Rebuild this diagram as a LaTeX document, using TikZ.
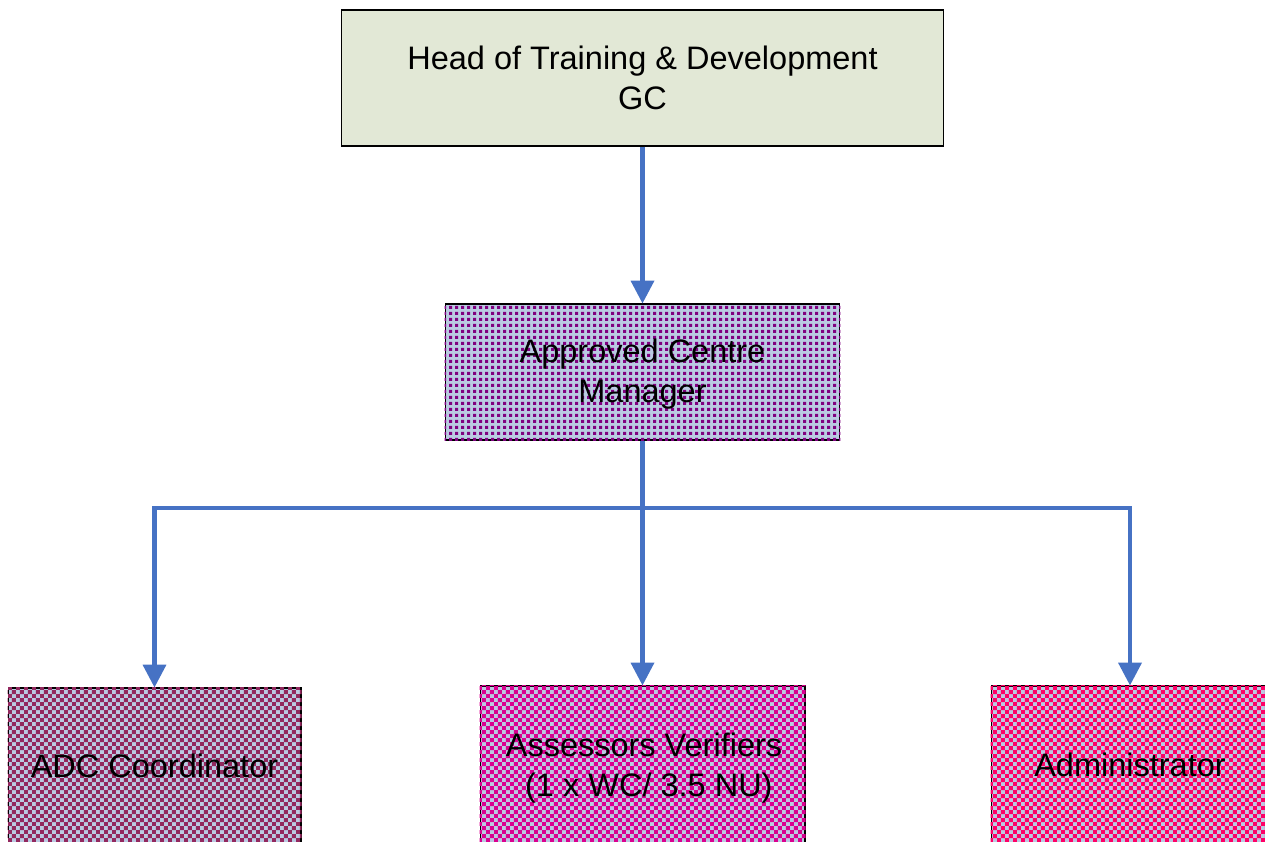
\documentclass[tikz,border=0pt]{standalone}
\usepackage{fontspec}
\setmainfont{Liberation Sans}
\usetikzlibrary{arrows.meta,patterns}

\definecolor{linkblue}{RGB}{70,114,196}
\definecolor{headfill}{RGB}{226,232,214}
\definecolor{paleblue}{RGB}{186,202,226}
\definecolor{acmpurple}{RGB}{128,0,128}
\definecolor{adcwine}{RGB}{146,40,94}
\definecolor{assmag}{RGB}{218,0,144}
\definecolor{admpink}{RGB}{255,0,102}

% small checks and dots as in the chart
\pgfdeclarepatternformonly{checks}{\pgfpointorigin}{\pgfqpoint{4.54pt}{4.54pt}}{\pgfqpoint{4.54pt}{4.54pt}}{%
  \pgfpathrectangle{\pgfpointorigin}{\pgfqpoint{2.27pt}{2.27pt}}
  \pgfpathrectangle{\pgfqpoint{2.27pt}{2.27pt}}{\pgfqpoint{2.27pt}{2.27pt}}
  \pgfusepath{fill}}
\pgfdeclarepatternformonly{fleck}{\pgfpointorigin}{\pgfqpoint{3.4pt}{3.4pt}}{\pgfqpoint{3.4pt}{3.4pt}}{%
  \pgfpathrectangle{\pgfqpoint{0.6pt}{0.6pt}}{\pgfqpoint{1.7pt}{1.7pt}}
  \pgfusepath{fill}}

\tikzset{
  box/.style = {draw=black, line width=0.6pt, align=center,
    font=\fontsize{18.5}{22.7}\selectfont, inner sep=0pt},
  label/.style = {align=center, font=\fontsize{18.5}{22.7}\selectfont},
  link/.style = {linkblue, line width=2.3pt},
  arr/.style = {link, -{Triangle[width=13pt,length=13pt]}},
}

\begin{document}
\begin{tikzpicture}[x=0.02cm, y=-0.02cm]
  \useasboundingbox (0,0) rectangle (1265,842);

  \node[box, fill=headfill, minimum width=12.06cm, minimum height=2.72cm]
    (head) at (642.5,78) {Head of Training \& Development\\GC};
  \node[box, fill=paleblue, minimum width=7.9cm, minimum height=2.72cm]
    (acm) at (642.5,372) {};
  \path[pattern=fleck, pattern color=acmpurple]
    (acm.south west) rectangle (acm.north east);
  \node[label] (acmtext) at (642.5,374) {Approved Centre\\Manager};

  % lower row
  \node[box, fill=paleblue, minimum width=5.86cm, minimum height=3.12cm]
    (adc) at (154.5,766) {};
  \path[pattern=checks, pattern color=adcwine]
    (adc.south west) rectangle (adc.north east);
  \node[label] (adctext) at (adc) {ADC Coordinator};

  \node[box, fill=paleblue, minimum width=6.5cm, minimum height=3.16cm]
    (ass) at (642.5,765) {};
  \path[pattern=checks, pattern color=assmag]
    (ass.south west) rectangle (ass.north east);
  \node[label] (asstext) at (644,768)
    {Assessors Verifiers\\\hspace*{0.3em}(1 x WC/ 3.5 NU)};

  \node[box, fill=paleblue, minimum width=5.56cm, minimum height=3.16cm]
    (adm) at (1130,765) {};
  \path[pattern=checks, pattern color=admpink]
    (adm.south west) rectangle (adm.north east);
  \node[label] (admtext) at (adm) {Administrator};

  % connectors
  \coordinate (split) at (642.5,508);
  \draw[arr] (head) -- (acm);
  \draw[link] (acm) -- (split);
  \draw[arr] (split) -| (adc.north);
  \draw[arr] (split) -- (ass);
  \draw[arr] (split) -| (adm.north);
\end{tikzpicture}
\end{document}
